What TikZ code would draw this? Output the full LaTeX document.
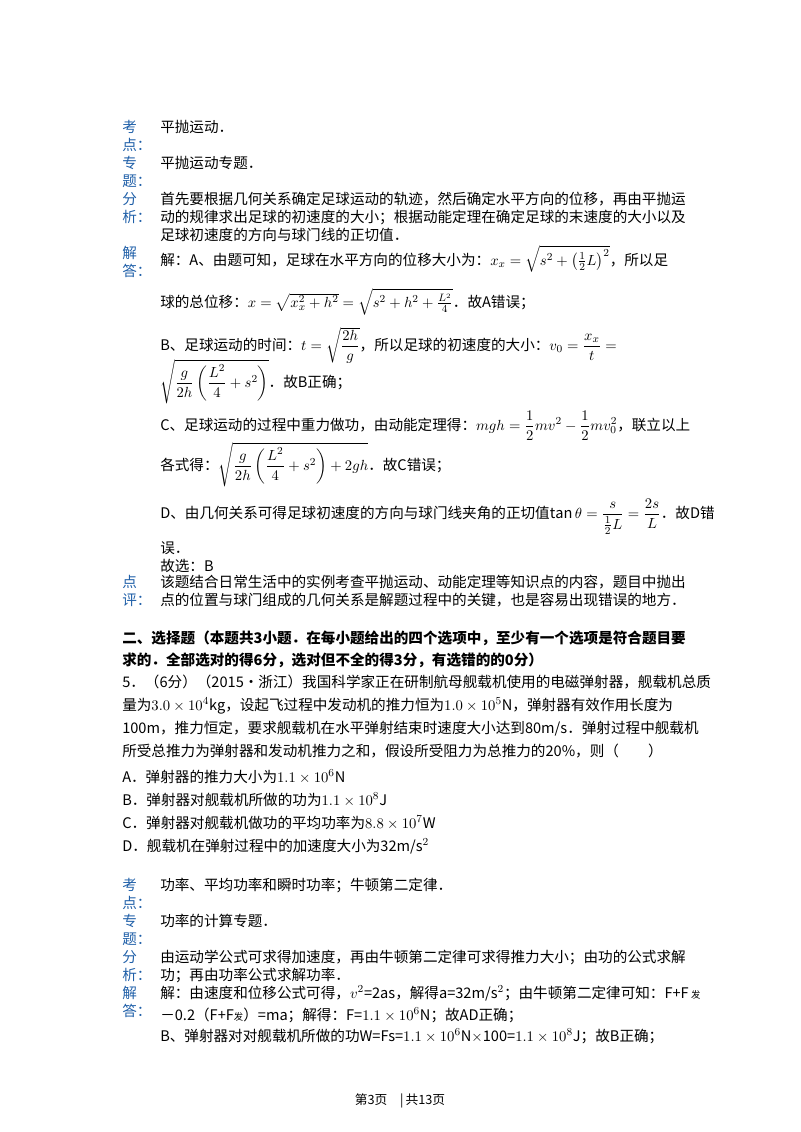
\documentclass[tikz,border=0pt]{standalone}
\usepackage{amsmath}
\usepackage{fontspec}
\setmainfont{Noto Sans CJK SC}
\definecolor{lblblue}{HTML}{1F5FA8}
\tikzset{
  txt/.style={anchor=base west,inner sep=0pt,font=\fontsize{10.9}{13}\selectfont},
  lbl/.style={txt,text=lblblue},
  hd/.style={txt,font=\fontsize{10.9}{13}\selectfont\bfseries}
}
\begin{document}
\begin{tikzpicture}[x=0.02625cm,y=-0.02625cm]
  \useasboundingbox (0,0) rectangle (800,1132);

  % first block labels
  \node[lbl] (k1) at (122,132) {考};
  \node[lbl] (k2) at (122,150) {点：};
  \node[lbl] (z1) at (122,168) {专};
  \node[lbl] (z2) at (122,186) {题：};
  \node[lbl] (f1) at (122,204) {分};
  \node[lbl] (f2) at (122,222) {析：};
  \node[lbl] (j1) at (122,258) {解};
  \node[lbl] (j2) at (122,276) {答：};
  \node[lbl] (p1) at (122,587) {点};
  \node[lbl] (p2) at (122,605) {评：};

  % first block text
  \node[txt] (a1) at (160,132) {平抛运动．};
  \node[txt] (a2) at (160,168) {平抛运动专题．};
  \node[txt] (a3) at (160,204) {首先要根据几何关系确定足球运动的轨迹，然后确定水平方向的位移，再由平抛运};
  \node[txt] (a4) at (160,222) {动的规律求出足球的初速度的大小；根据动能定理在确定足球的末速度的大小以及};
  \node[txt] (a5) at (160,240) {足球初速度的方向与球门线的正切值．};
  \node[txt] (s1) at (160,265) {解：A、由题可知，足球在水平方向的位移大小为：$\smash{x_x=\sqrt{s^2+\left(\frac{1}{2}L\right)^2}}$，所以足};
  \node[txt] (s2) at (160,307) {球的总位移：$\smash{x=\sqrt{x_x^2+h^2}=\sqrt{s^2+h^2+\frac{L^2}{4}}}$．故A错误；};
  \node[txt] (s3) at (160,350) {B、足球运动的时间：$\smash{t=\sqrt{\dfrac{2h}{g}}}$，所以足球的初速度的大小：$\smash{v_0=\dfrac{x_x}{t}=}$};
  \node[txt] (s4) at (160,387) {$\smash{\sqrt{\dfrac{g}{2h}\left(\dfrac{L^2}{4}+s^2\right)}}$．故B正确；};
  \node[txt] (s5) at (160,430) {C、足球运动的过程中重力做功，由动能定理得：$\smash{mgh=\dfrac{1}{2}mv^2-\dfrac{1}{2}mv_0^2}$，联立以上};
  \node[txt] (s6) at (160,470) {各式得：$\smash{\sqrt{\dfrac{g}{2h}\left(\dfrac{L^2}{4}+s^2\right)+2gh}}$．故C错误；};
  \node[txt] (s7) at (160,518) {D、由几何关系可得足球初速度的方向与球门线夹角的正切值$\smash{\tan\theta=\dfrac{s}{\frac{1}{2}L}=\dfrac{2s}{L}}$．故D错};
  \node[txt] (s8) at (160,553) {误．};
  \node[txt] (s9) at (160,571) {故选：B};
  \node[txt] (b1) at (160,587) {该题结合日常生活中的实例考查平抛运动、动能定理等知识点的内容，题目中抛出};
  \node[txt] (b2) at (160,605) {点的位置与球门组成的几何关系是解题过程中的关键，也是容易出现错误的地方．};

  % section heading and question
  \node[hd] (h1) at (122,643) {二、选择题（本题共3小题．在每小题给出的四个选项中，至少有一个选项是符合题目要};
  \node[hd] (h2) at (122,665) {求的．全部选对的得6分，选对但不全的得3分，有选错的的0分）};
  \node[txt] (q1) at (122,687) {5．（6分）（2015•浙江）我国科学家正在研制航母舰载机使用的电磁弹射器，舰载机总质};
  \node[txt] (q2) at (122,710) {量为$3.0\times10^4$kg，设起飞过程中发动机的推力恒为$1.0\times10^5$N，弹射器有效作用长度为};
  \node[txt] (q3) at (122,733) {100m，推力恒定，要求舰载机在水平弹射结束时速度大小达到80m/s．弹射过程中舰载机};
  \node[txt] (q4) at (122,756) {所受总推力为弹射器和发动机推力之和，假设所受阻力为总推力的20\%，则（\qquad）};
  \node[txt] (o1) at (122,782) {A．弹射器的推力大小为$1.1\times10^6$N};
  \node[txt] (o2) at (122,805) {B．弹射器对舰载机所做的功为$1.1\times10^8$J};
  \node[txt] (o3) at (122,828) {C．弹射器对舰载机做功的平均功率为$8.8\times10^7$W};
  \node[txt] (o4) at (122,851) {D．舰载机在弹射过程中的加速度大小为32m/s$^2$};

  % second block labels
  \node[lbl] (k3) at (122,890) {考};
  \node[lbl] (k4) at (122,908) {点：};
  \node[lbl] (z3) at (122,926) {专};
  \node[lbl] (z4) at (122,944) {题：};
  \node[lbl] (f3) at (122,962) {分};
  \node[lbl] (f4) at (122,980) {析：};
  \node[lbl] (j3) at (122,998) {解};
  \node[lbl] (j4) at (122,1016) {答：};

  % second block text
  \node[txt] (c1) at (160,890) {功率、平均功率和瞬时功率；牛顿第二定律．};
  \node[txt] (c2) at (160,926) {功率的计算专题．};
  \node[txt] (c3) at (160,962) {由运动学公式可求得加速度，再由牛顿第二定律可求得推力大小；由功的公式求解};
  \node[txt] (c4) at (160,980) {功；再由功率公式求解功率．};
  \node[txt] (c5) at (160,998) {解：由速度和位移公式可得，$v^2$=2as，解得a=32m/s$^2$；由牛顿第二定律可知：F+F\,{\scriptsize 发}};
  \node[txt] (c6) at (160,1020) {－0.2（F+F{\scriptsize 发}）=ma；解得：F=$1.1\times10^6$N；故AD正确；};
  \node[txt] (c7) at (160,1041) {B、弹射器对对舰载机所做的功W=Fs=$1.1\times10^6$N$\times$100=$1.1\times10^8$J；故B正确；};

  % footer
  \node[txt,anchor=base,font=\fontsize{9.5}{11}\selectfont] (ft) at (400,1104) {第3页\quad|\,共13页};
\end{tikzpicture}
\end{document}
